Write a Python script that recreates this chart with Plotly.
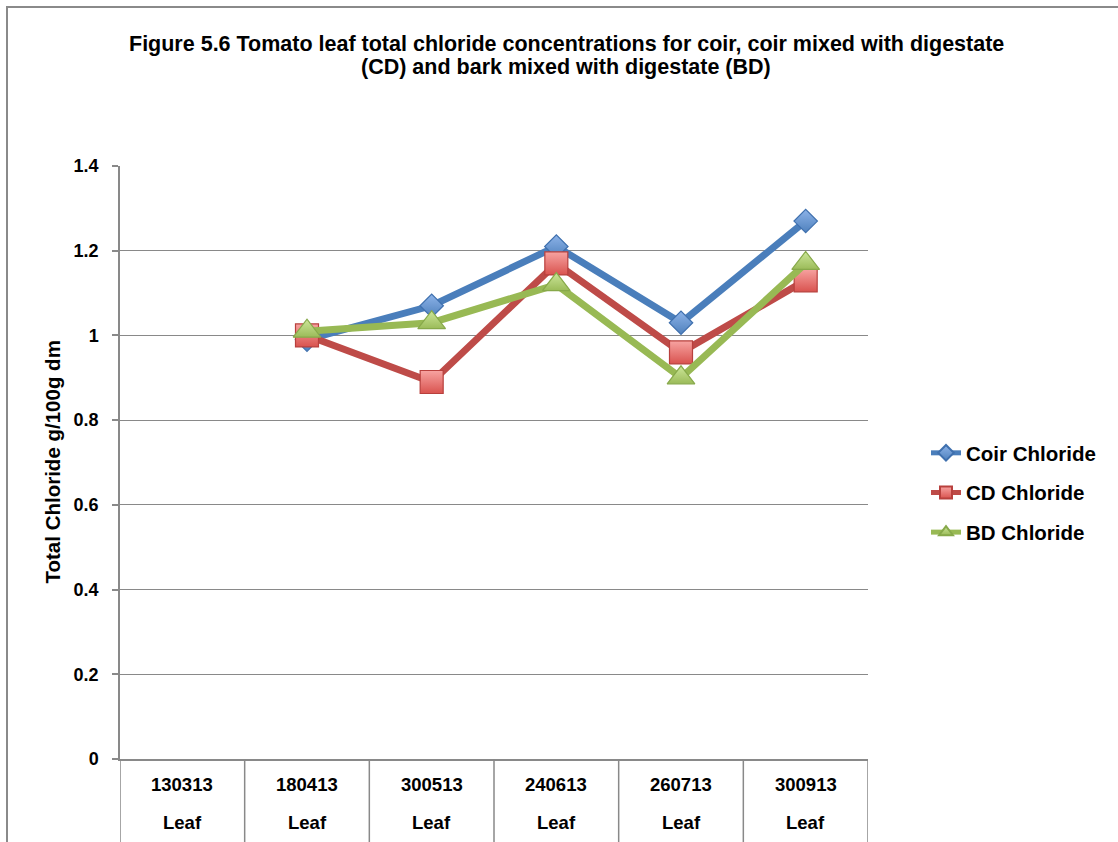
import plotly.graph_objects as go

# Sampling dates (ddmmyy) and tissue row of the two-level category axis
dates = ["130313", "180413", "300513", "240613", "260713", "300913"]
tissue = ["Leaf", "Leaf", "Leaf", "Leaf", "Leaf", "Leaf"]

# Total chloride, g/100g dry matter (no sample on the first date)
coir = [None, 0.99, 1.07, 1.21, 1.03, 1.27]
cd = [None, 1.00, 0.89, 1.17, 0.96, 1.13]
bd = [None, 1.01, 1.03, 1.12, 0.90, 1.17]

y_ticks = [0, 0.2, 0.4, 0.6, 0.8, 1, 1.2, 1.4]

title_lines = [
    "Figure 5.6 Tomato leaf total chloride concentrations for coir, coir mixed with digestate",
    "(CD) and bark mixed with digestate (BD)",
]

FONT = "Liberation Sans, Arial, sans-serif"
GRID = "#898989"

# plot area in pixels: left 120, right 868, top 166, bottom 759
PL, PR, PT, PB = 120, 868, 166, 759


def px_to_py(py):
    return (PB - py) / (PB - PT)


def px_to_px(px):
    return (px - PL) / (PR - PL)


xpos = list(range(len(dates)))

fig = go.Figure()

series = [
    ("Coir Chloride", coir, "#4A7EBB", "diamond", 18, "#8DB3E8", "#4F81BD", "#3F70AE"),
    ("CD Chloride", cd, "#BE4B48", "square", 23, "#F7A3A1", "#D9534F", "#B8403D"),
    ("BD Chloride", bd, "#98B954", "triangle-up", 24, "#CDE79A", "#9BBB59", "#87A94A"),
]

for name, vals, lcol, sym, msize, top, bottom, edge in series:
    fig.add_trace(go.Scatter(
        x=xpos, y=vals, name=f"<b>{name}</b>", mode="lines+markers",
        legendgroup=name,
        line=dict(color=lcol, width=7),
        marker=dict(symbol=sym, size=msize, color=top,
                    gradient=dict(type="vertical", color=bottom),
                    line=dict(color=edge, width=1.2)),
        connectgaps=False,
    ))

annotations = []

# Title, one annotation per line
for py, line in zip([44, 67], title_lines):
    annotations.append(dict(x=px_to_px(566), y=px_to_py(py), xref="paper", yref="paper",
                            text=f"<b>{line}</b>", showarrow=False,
                            xanchor="center", yanchor="middle",
                            font=dict(family=FONT, size=21.5, color="#000")))

# Category labels: two rows (date, tissue) under the axis
for xi, d, t in zip(xpos, dates, tissue):
    annotations.append(dict(x=xi, y=px_to_py(784), xref="x", yref="paper", text=f"<b>{d}</b>",
                            showarrow=False, xanchor="center", yanchor="middle",
                            font=dict(family=FONT, size=18.5, color="#000")))
    annotations.append(dict(x=xi, y=px_to_py(822), xref="x", yref="paper", text=f"<b>{t}</b>",
                            showarrow=False, xanchor="center", yanchor="middle",
                            font=dict(family=FONT, size=18.5, color="#000")))

# Y-axis title
annotations.append(dict(x=px_to_px(52), y=0.5, xref="paper", yref="paper",
                        text="<b>Total Chloride g/100g dm</b>", textangle=-90,
                        showarrow=False, xanchor="center", yanchor="middle",
                        font=dict(family=FONT, size=20.5, color="#000")))

# Vertical dividers between category cells
shapes = []
for k in range(len(dates) + 1):
    shapes.append(dict(type="line", xref="x", yref="paper", x0=k - 0.5, x1=k - 0.5,
                       y0=0, y1=-0.25, line=dict(color=GRID, width=1.5)))

# Chart-area border
shapes.append(dict(type="rect", xref="paper", yref="paper",
                   x0=px_to_px(7), x1=1.4, y0=-0.3, y1=px_to_py(7),
                   line=dict(color="#8A8A8A", width=2), fillcolor="rgba(0,0,0,0)", layer="below"))

fig.update_layout(
    width=1118, height=842,
    margin=dict(l=PL, r=1118 - PR, t=PT, b=842 - PB),
    paper_bgcolor="white", plot_bgcolor="white",
    xaxis=dict(
        range=[-0.5, len(dates) - 0.5], tickvals=xpos, showticklabels=False,
        showgrid=False, zeroline=False, showline=True, linecolor=GRID, linewidth=1.5,
        ticks="",
    ),
    yaxis=dict(
        range=[0, 1.4], tickvals=y_ticks, ticktext=[f"<b>{v:g}</b>" for v in y_ticks],
        showgrid=True, gridcolor=GRID, gridwidth=1.2, zeroline=False,
        showline=True, linecolor=GRID, linewidth=1.5,
        ticks="outside", ticklen=6, tickcolor=GRID, tickwidth=1.5,
        ticklabelstandoff=10,
        tickfont=dict(family=FONT, size=18, color="#000"),
    ),
    legend=dict(
        x=px_to_px(926), y=px_to_py(433), xanchor="left", yanchor="top",
        font=dict(family=FONT, size=20.5, color="#000"),
        tracegroupgap=10, bgcolor="rgba(0,0,0,0)",
        itemsizing="constant",
    ),
    showlegend=True,
    annotations=annotations,
    shapes=shapes,
)

fig.write_html("out.html")
